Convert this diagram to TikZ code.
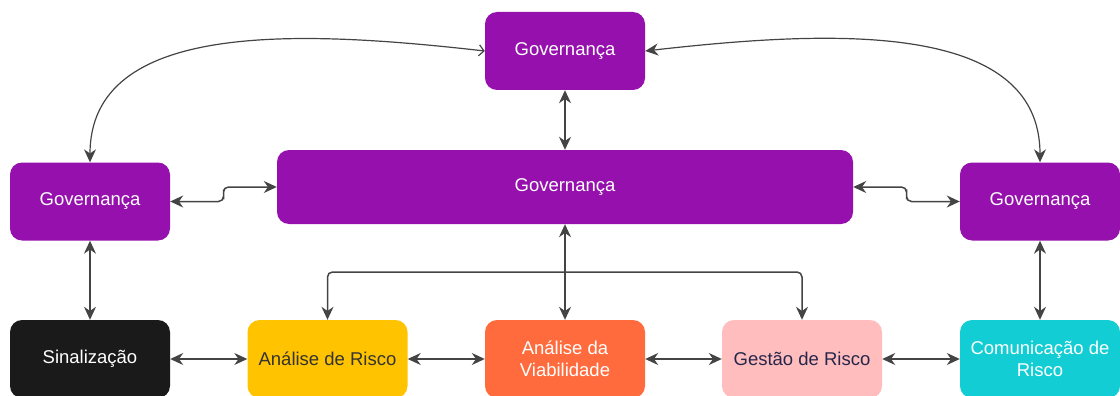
\documentclass[tikz,border=0pt]{standalone}
\usepackage{fontspec}
\setmainfont{Liberation Sans}
\usetikzlibrary{arrows.meta,calc}

\definecolor{govpurple}{HTML}{9510AC}
\definecolor{sinblack}{HTML}{1A1A1A}
\definecolor{riscyellow}{HTML}{FFC300}
\definecolor{viaborange}{HTML}{FF6B3D}
\definecolor{gestpink}{HTML}{FFBDBD}
\definecolor{comcyan}{HTML}{12CDD4}
\definecolor{linegray}{HTML}{444444}
\definecolor{darktext}{HTML}{333333}
\definecolor{navytext}{HTML}{26264A}

\tikzset{
    box/.style={rectangle, rounded corners=12pt, minimum width=160pt, minimum height=78pt,
        inner sep=2pt, align=center, font=\fontsize{18.5}{22}\selectfont},
    govbox/.style={box, fill=govpurple, text=white},
    link/.style={draw=linegray, line width=1.5pt, {Stealth[length=13pt,width=12pt]}-{Stealth[length=13pt,width=12pt]}},
    curve/.style={draw=linegray, line width=1.2pt},
}

\begin{document}
\begin{tikzpicture}[x=1pt, y=-1pt]
    \useasboundingbox (0,0) rectangle (1120,396);

    % governance layer
    \node[govbox] (gtop) at (565,51) {Governança};
    \node[govbox] (gleft) at (90,201.5) {Governança};
    \node[govbox] (gright) at (1040,201.5) {Governança};
    \node[govbox, minimum width=576pt, minimum height=74pt] (gmain) at (565,187) {Governança};

    % bottom row
    \node[box, fill=sinblack, text=white] (sin) at (90,359) {Sinalização};
    \node[box, fill=riscyellow, text=darktext] (anrisco) at (327.5,359) {Análise de Risco};
    \node[box, fill=viaborange, text=white] (anviab) at (565,359) {Análise da\\Viabilidade};
    \node[box, fill=gestpink, text=navytext] (gestao) at (802,359) {Gestão de Risco};
    \node[box, fill=comcyan, text=white] (comun) at (1040,359) {Comunicação de\\Risco};

    % curved links from the top box
    \draw[curve, {Stealth[length=13pt,width=12pt]}-{Straight Barb[length=5pt,width=11pt]}]
        (gleft.north) .. controls (90,20) and (300,30) .. (gtop.west);
    \draw[curve, {Stealth[length=13pt,width=12pt]}-{Stealth[length=13pt,width=12pt]}]
        (gtop.east) .. controls (830,30) and (1040,20) .. (gright.north);

    % vertical links
    \draw[link] (gtop.south) -- (gmain.north);
    \draw[link] (gleft.south) -- (sin.north);
    \draw[link] (gright.south) -- (comun.north);
    \draw[link] (gmain.south) -- (anviab.north);

    % side links with a small step
    \draw[link, rounded corners=5pt] (gleft.east) -| ($(gleft.east)!0.5!(gmain.west)$) |- (gmain.west);
    \draw[link, rounded corners=5pt] (gmain.east) -| ($(gmain.east)!0.5!(gright.west)$) |- (gright.west);

    % branch to the side boxes of the bottom row
    \coordinate (fork) at (565,272);
    \draw[link, -{Stealth[length=13pt,width=12pt]}, rounded corners=5pt] (fork) -| (anrisco.north);
    \draw[link, -{Stealth[length=13pt,width=12pt]}, rounded corners=5pt] (fork) -| (gestao.north);

    % bottom row links
    \draw[link] (sin.east) -- (anrisco.west);
    \draw[link] (anrisco.east) -- (anviab.west);
    \draw[link] (anviab.east) -- (gestao.west);
    \draw[link] (gestao.east) -- (comun.west);

\end{tikzpicture}
\end{document}
